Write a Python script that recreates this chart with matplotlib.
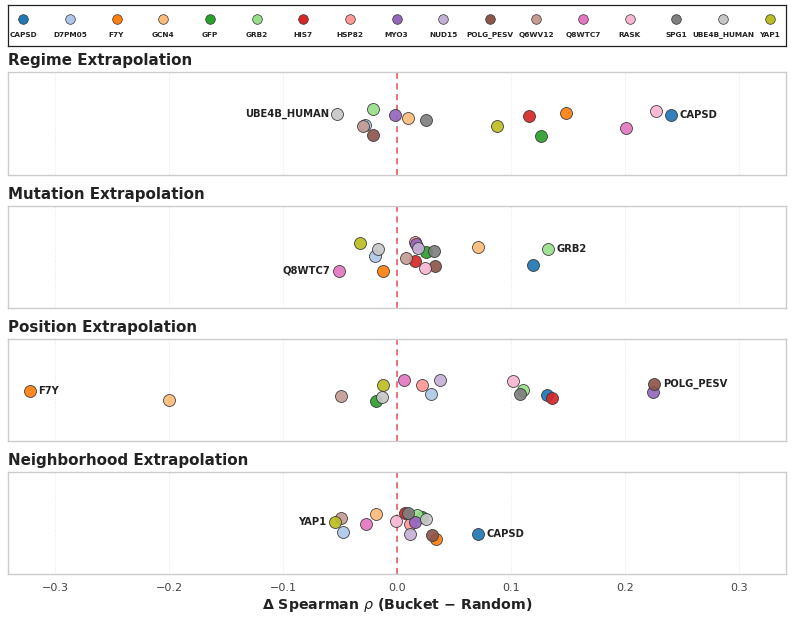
import numpy as np
import matplotlib
matplotlib.use("Agg")
import matplotlib.pyplot as plt

plt.rcParams['font.family'] = ['DejaVu Sans']

proteins = ["CAPSD", "D7PM05", "F7Y", "GCN4", "GFP", "GRB2", "HIS7", "HSP82", "MYO3",
            "NUD15", "POLG_PESV", "Q6WV12", "Q8WTC7", "RASK", "SPG1", "UBE4B_HUMAN", "YAP1"]
colors = ["#1f77b4", "#aec7e8", "#ff7f0e", "#ffbb78", "#2ca02c", "#98df8a", "#d62728",
          "#ff9896", "#9467bd", "#c5b0d5", "#8c564b", "#c49c94", "#e377c2", "#f7b6d2",
          "#7f7f7f", "#c7c7c7", "#bcbd22"]

panel_titles = ["Regime Extrapolation", "Mutation Extrapolation",
                "Position Extrapolation", "Neighborhood Extrapolation"]

# Delta Spearman (Bucket - Random), per protein (None = not present)
regime_delta = [0.2405, -0.028, 0.148, 0.0099, 0.1264, -0.021, 0.116, None, -0.002,
                None, -0.021, -0.030, 0.201, 0.2276, 0.0255, -0.0524, 0.0877]
mutation_delta = [0.1193, -0.0193, -0.0126, 0.0709, 0.0255, 0.1326, 0.0158, 0.0154, 0.0171,
                  0.018, 0.0336, 0.0082, -0.0513, 0.0242, 0.0327, -0.0167, -0.0326]
position_delta = [0.1317, 0.0296, -0.3222, -0.2005, -0.0184, 0.1104, 0.1361, 0.0216, 0.2246,
                  0.038, 0.2259, -0.049, 0.0061, 0.1015, 0.1077, -0.0135, -0.0126]
neighborhood_delta = [0.0709, -0.0477, 0.034, -0.018, 0.022, 0.0175, 0.0068, 0.0118, 0.0162,
                      0.0118, 0.0309, -0.049, -0.0273, -0.0006, 0.0096, 0.0251, -0.0548]

# vertical jitter of each point within its strip
regime_jitter = [0.164, -0.03, 0.215, 0.117, -0.246, 0.281, 0.156, None, 0.17,
                 None, -0.226, -0.039, -0.078, 0.254, 0.078, 0.195, -0.039]
mutation_jitter = [-0.164, 0.023, -0.269, 0.199, 0.09, 0.16, -0.086, 0.291, 0.252,
                   0.168, -0.183, -0.016, -0.275, -0.211, 0.109, 0.148, 0.277]
position_jitter = [-0.101, -0.076, -0.012, -0.187, -0.219, 0.008, -0.16, 0.105, -0.031,
                   0.197, 0.125, -0.115, 0.203, 0.183, -0.07, -0.129, 0.105]
neighborhood_jitter = [-0.215, -0.176, -0.3, 0.176, 0.129, 0.162, 0.2, -0.02, 0.031,
                       -0.215, -0.228, 0.098, -0.008, 0.051, 0.195, 0.078, 0.031]

deltas = [regime_delta, mutation_delta, position_delta, neighborhood_delta]
jitters = [regime_jitter, mutation_jitter, position_jitter, neighborhood_jitter]

xticks = [-0.3, -0.2, -0.1, 0.0, 0.1, 0.2, 0.3]

W, H = 794, 619
fig = plt.figure(figsize=(W / 100, H / 100), dpi=100)

allx = [v for d in deltas for v in d if v is not None]
xmax = max(abs(v) for v in allx) * 1.06

left_px, right_px = 8, 786
top0, step, hgt = 72.3, 133.2, 102.5
axes = []
for i in range(4):
    top = top0 + step * i
    ax = fig.add_axes([left_px / W, 1 - (top + hgt) / H, (right_px - left_px) / W, hgt / H])
    axes.append(ax)

for i, ax in enumerate(axes):
    d, j = deltas[i], jitters[i]
    for k, p in enumerate(proteins):
        if d[k] is None:
            continue
        ax.scatter(d[k], j[k], s=74, color=colors[k], edgecolors="#333333",
                   linewidths=0.6, alpha=0.92, zorder=3 + k * 0.01)
    ax.axvline(0, color="#e03c3c", linestyle=(0, (4, 3)), linewidth=1.1, alpha=0.9, zorder=2)
    ax.set_xlim(-xmax, xmax)
    ax.set_ylim(-1, 1)
    ax.set_yticks([])
    ax.set_xticks(xticks)
    ax.grid(axis="x", color="#e6e6e6", linestyle=":", linewidth=0.7, zorder=0)
    ax.set_axisbelow(True)
    ax.tick_params(axis="x", length=0, pad=6, labelsize=8, labelcolor="#444444")
    if i < 3:
        ax.tick_params(axis="x", labelbottom=False)
    for sp in ax.spines.values():
        sp.set_color("#cccccc")
        sp.set_linewidth(1.0)
    ax.set_title(panel_titles[i], loc="left", fontsize=10.9, fontweight="bold",
                 color="#222222", pad=5)

    # annotate extremes
    valid = [(d[k], j[k], proteins[k]) for k in range(len(proteins)) if d[k] is not None]
    lo = min(valid, key=lambda t: t[0])
    hi = max(valid, key=lambda t: t[0])
    for (xv, yv, name), side in ((lo, "left"), (hi, "right")):
        if side == "left" and xv < -0.25:
            side = "right"
        off = -6 if side == "left" else 6
        ax.annotate(name, (xv, yv), xytext=(off, 0), textcoords="offset points",
                    ha="right" if side == "left" else "left", va="center",
                    fontsize=7.2, fontweight="bold", color="#222222", zorder=5)

fig.text(397 / W, 1 - 605 / H, r"Δ Spearman $\rho$ (Bucket − Random)", ha="center",
         va="center", fontsize=10.2, fontweight="bold", color="#222222")

# legend box
lax = fig.add_axes([left_px / W, 1 - 46 / H, (right_px - left_px) / W, 41 / H])
lax.set_xlim(left_px, right_px)
lax.set_ylim(46, 5)
lax.set_xticks([])
lax.set_yticks([])
for sp in lax.spines.values():
    sp.set_color("#222222")
    sp.set_linewidth(0.9)
n = len(proteins)
xs = np.linspace(23.3, 769.7, n)
for k, p in enumerate(proteins):
    lax.scatter(xs[k], 19, s=48, color=colors[k], edgecolors="#333333", linewidths=0.5, zorder=3)
    lax.text(xs[k], 35, p, ha="center", va="center", fontsize=5.3, fontweight="bold",
             color="#222222")

fig.savefig("out.png", dpi=100)
